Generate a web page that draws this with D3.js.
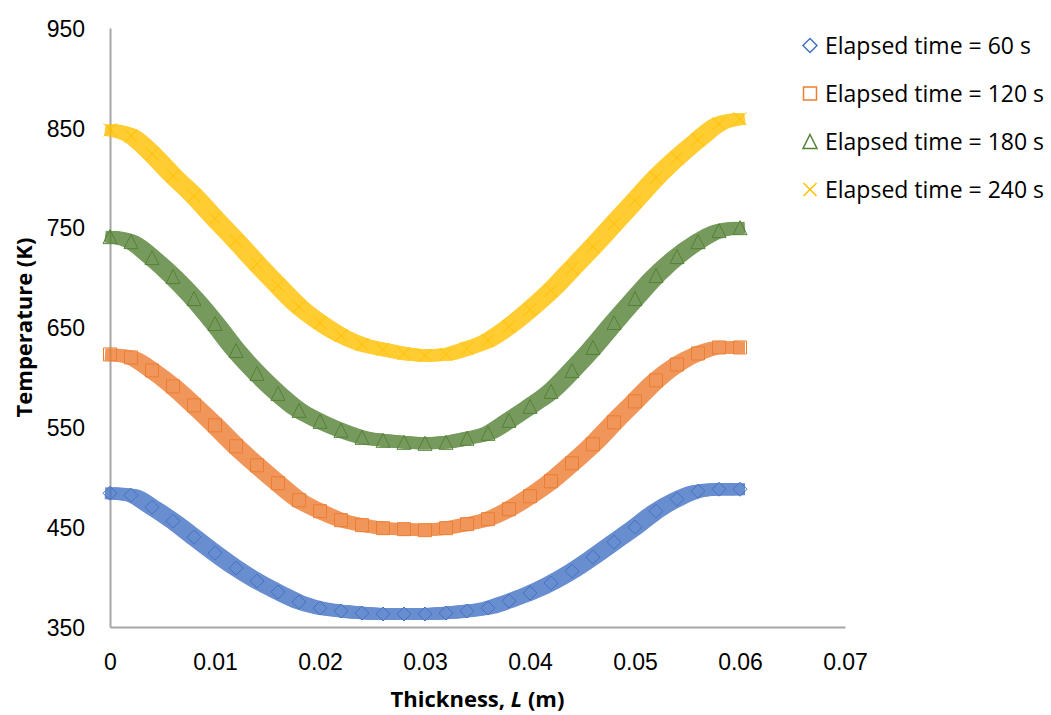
<!DOCTYPE html>
<html>
<head>
<meta charset="utf-8">
<script src="https://cdn.jsdelivr.net/npm/d3@7"></script>
<style>
  body { margin: 0; background: #fff; }
  svg { display: block; font-family: "Open Sans", sans-serif; }
</style>
</head>
<body>
<div id="chart"></div>
<script>
{
// values
const thickness = [0, 0.002, 0.004, 0.006, 0.008, 0.010, 0.012, 0.014, 0.016, 0.018,
    0.020, 0.022, 0.024, 0.026, 0.028, 0.030, 0.032, 0.034, 0.036, 0.038,
    0.040, 0.042, 0.044, 0.046, 0.048, 0.050, 0.052, 0.054, 0.056, 0.058, 0.060];

const temp60 = [484, 482, 470, 456, 440, 424, 409, 396, 385, 375,
    369, 366, 364, 363, 363, 363, 364, 366, 369, 376,
    384, 394, 406, 420, 435, 450, 466, 478, 486, 488, 488];
const temp120 = [623, 620, 607, 591, 572, 552, 531, 512, 494, 477,
    466, 457, 452, 449, 448, 447, 449, 453, 458, 468,
    481, 496, 514, 533, 555, 576, 597, 613, 624, 630, 630];
const temp180 = [741, 736, 720, 701, 679, 654, 627, 604, 584, 567,
    556, 547, 540, 537, 535, 534, 535, 539, 544, 557,
    571, 586, 607, 630, 655, 679, 702, 721, 736, 747, 750];
const temp240 = [848, 842, 824, 802, 782, 759, 737, 714, 692, 671,
    655, 642, 633, 628, 624, 622, 623, 629, 637, 651,
    668, 687, 709, 731, 754, 777, 800, 820, 838, 854, 859];

const seriesNames = ["Elapsed time = 60 s", "Elapsed time = 120 s",
    "Elapsed time = 180 s", "Elapsed time = 240 s"];
const xTicks = [0, 0.01, 0.02, 0.03, 0.04, 0.05, 0.06, 0.07];
const yTicks = [350, 450, 550, 650, 750, 850, 950];

const colors = ["#4472C4", "#ED7D31", "#548235", "#FFC000"];

// marker shapes like the excel ones (size = half width)
const diamond = { draw(ctx, r) { ctx.moveTo(0, -r); ctx.lineTo(r, 0); ctx.lineTo(0, r); ctx.lineTo(-r, 0); ctx.closePath(); } };
const square = { draw(ctx, r) { ctx.rect(-r, -r, 2 * r, 2 * r); } };
const triangle = { draw(ctx, r) { ctx.moveTo(0, -r); ctx.lineTo(r, r); ctx.lineTo(-r, r); ctx.closePath(); } };
const cross = { draw(ctx, r) { ctx.moveTo(-r, -r); ctx.lineTo(r, r); ctx.moveTo(r, -r); ctx.lineTo(-r, r); } };
const shapes = [diamond, square, triangle, cross];
const shapeSize = [7, 6.5, 7, 6.5];

const series = [temp60, temp120, temp180, temp240].map((vals, i) => ({
    name: seriesNames[i],
    color: colors[i],
    shape: shapes[i],
    r: shapeSize[i],
    points: thickness.map((t, j) => ({ x: t, y: vals[j] }))
}));

const W = 1051, H = 715;

const x = d3.scaleLinear().domain([0, 0.07]).range([110, 845]);
const y = d3.scaleLinear().domain([350, 950]).range([627, 28]);

const svg = d3.select("#chart")
    .append("svg")
    .attr("width", W)
    .attr("height", H);

// axes, no tick marks, grey lines
const yAxis = svg.append("g")
    .attr("transform", `translate(${x(0)},0)`)
    .call(d3.axisLeft(y).tickValues(yTicks).tickSize(0).tickSizeOuter(0).tickPadding(25));

const xAxis = svg.append("g")
    .attr("transform", `translate(0,${y(350)})`)
    .call(d3.axisBottom(x).tickValues(xTicks).tickSize(0).tickSizeOuter(0)
        .tickFormat(d => d === 0 ? "0" : d3.format(".2f")(d)));

svg.selectAll(".domain")
    .attr("stroke", "#a6a6a6")
    .attr("stroke-width", 2);

yAxis.selectAll("text")
    .attr("dy", "0.36em")
    .style("font-size", "23px")
    .attr("fill", "#000");

xAxis.selectAll("text")
    .attr("y", 35)
    .attr("dy", "0.36em")
    .style("font-size", "23px")
    .attr("fill", "#000");

// the dense marker band: path swept sideways a bit, then markers
const line = d3.line()
    .x(d => x(d.x))
    .y(d => y(d.y))
    .curve(d3.curveMonotoneX);

const sweep = [-5, -2.5, 0, 2.5, 5];

series.forEach(s => {
    const band = svg.append("g").attr("opacity", 0.8);
    band.selectAll("path")
        .data(sweep)
        .join("path")
        .attr("d", line(s.points))
        .attr("transform", d => `translate(${d},0)`)
        .attr("fill", "none")
        .attr("stroke", s.color)
        .attr("stroke-width", 12);

    svg.append("g")
        .selectAll("path")
        .data(s.points)
        .join("path")
        .attr("d", d3.symbol().type(s.shape).size(s.r))
        .attr("transform", d => `translate(${x(d.x)},${y(d.y)})`)
        .attr("fill", "none")
        .attr("stroke", s.color)
        .attr("stroke-width", 1);
});

// axis titles
svg.append("text")
    .attr("transform", `translate(32,${(y(350) + y(950)) / 2}) rotate(-90)`)
    .attr("text-anchor", "middle")
    .style("font-size", "22px")
    .style("font-weight", "bold")
    .text("Temperature (K)");

const xTitle = svg.append("text")
    .attr("x", (x(0) + x(0.07)) / 2)
    .attr("y", 707)
    .attr("text-anchor", "middle")
    .style("font-size", "22px")
    .style("font-weight", "bold");
xTitle.append("tspan").text("Thickness, ");
xTitle.append("tspan").style("font-style", "italic").text("L");
xTitle.append("tspan").text(" (m)");

// legend
const legend = svg.append("g")
    .selectAll("g")
    .data(series)
    .join("g")
    .attr("transform", (d, i) => `translate(810,${45.5 + i * 48})`);

legend.append("path")
    .attr("d", d => d3.symbol().type(d.shape).size(d.r)())
    .attr("fill", "none")
    .attr("stroke", d => d.color)
    .attr("stroke-width", 1.5);

legend.append("text")
    .attr("x", 15)
    .attr("dy", "0.36em")
    .style("font-size", "23px")
    .text(d => d.name);
}
</script>
</body>
</html>
